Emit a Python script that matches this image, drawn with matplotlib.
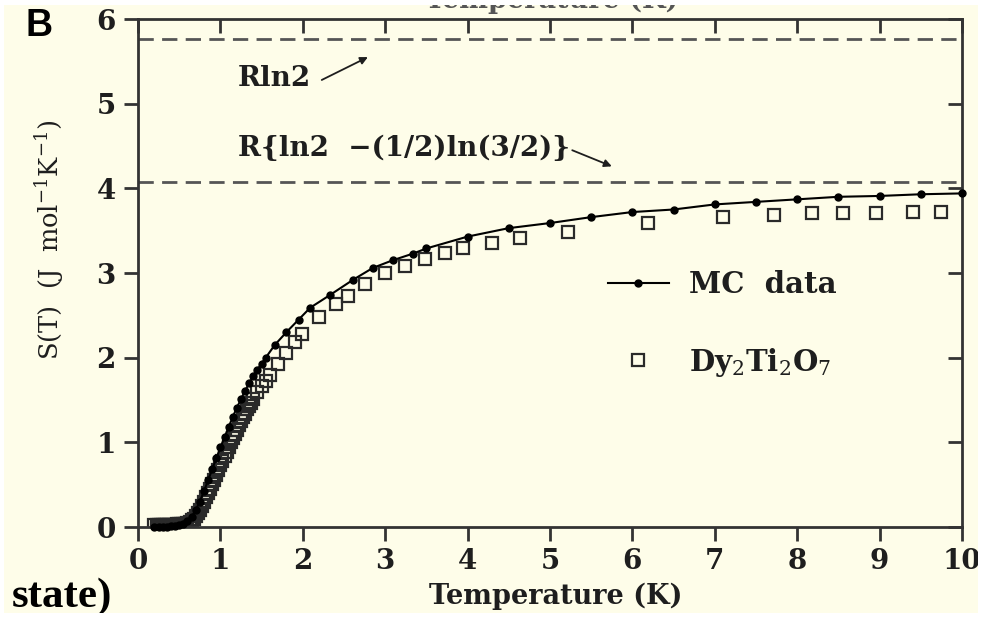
import matplotlib
matplotlib.use("Agg")
import matplotlib.pyplot as plt
from matplotlib.lines import Line2D
from matplotlib.patches import Rectangle

# ---------------- data ----------------
mc_T = [0.2, 0.25, 0.3, 0.35, 0.4, 0.45, 0.5, 0.55, 0.6, 0.65, 0.7, 0.75, 0.8, 0.85,
        0.9, 0.95, 1.0, 1.05, 1.1, 1.15, 1.2, 1.25, 1.3, 1.35, 1.4, 1.45, 1.5, 1.55,
        1.66, 1.8, 1.95, 2.09, 2.33, 2.61, 2.85, 3.09, 3.34, 3.5, 4.0, 4.5,
        5.0, 5.5, 6.0, 6.5, 7.0, 7.5, 8.0, 8.5, 9.0, 9.5, 10.0]
mc_S = [0.00, 0.00, 0.00, 0.00, 0.01, 0.01, 0.02, 0.04, 0.07, 0.12, 0.20, 0.30, 0.42, 0.55,
        0.68, 0.81, 0.94, 1.06, 1.18, 1.30, 1.41, 1.51, 1.61, 1.70, 1.78, 1.86, 1.93, 2.00,
        2.15, 2.30, 2.45, 2.59, 2.74, 2.92, 3.06, 3.15, 3.23, 3.29, 3.43, 3.53,
        3.59, 3.66, 3.72, 3.75, 3.81, 3.84, 3.87, 3.90, 3.91, 3.93, 3.94]

dy_T = [0.2, 0.225, 0.25, 0.275, 0.3, 0.325, 0.35, 0.375, 0.4, 0.425, 0.45, 0.475,
        0.5, 0.525, 0.55, 0.575, 0.6, 0.625, 0.65, 0.675, 0.7, 0.725, 0.75, 0.775,
        0.8, 0.825, 0.85, 0.875, 0.9, 0.925, 0.95, 0.975, 1.0, 1.025, 1.05, 1.075,
        1.1, 1.125, 1.15, 1.175, 1.2, 1.225, 1.25, 1.275, 1.3, 1.325, 1.35, 1.375,
        1.4, 1.45, 1.5, 1.55, 1.6, 1.7, 1.8, 1.9, 1.99, 2.2, 2.4, 2.55, 2.75, 3.0,
        3.24, 3.48, 3.73, 3.95, 4.3, 4.64, 5.22, 6.19, 7.1, 7.72, 8.18, 8.55, 8.96,
        9.4, 9.75]
dy_S = [0.02, 0.02, 0.02, 0.02, 0.02, 0.02, 0.02, 0.02, 0.02, 0.02, 0.02, 0.03,
        0.03, 0.03, 0.04, 0.04, 0.05, 0.06, 0.08, 0.10, 0.13, 0.16, 0.20, 0.25,
        0.30, 0.35, 0.40, 0.45, 0.51, 0.56, 0.62, 0.67, 0.73, 0.78, 0.84, 0.89,
        0.95, 1.00, 1.05, 1.10, 1.15, 1.20, 1.25, 1.30, 1.34, 1.39, 1.43, 1.47,
        1.51, 1.59, 1.66, 1.73, 1.80, 1.93, 2.06, 2.18, 2.28, 2.48, 2.63, 2.73, 2.87, 3.00,
        3.08, 3.16, 3.24, 3.29, 3.35, 3.41, 3.49, 3.59, 3.66, 3.68, 3.71, 3.71, 3.71,
        3.72, 3.72]

rln2 = 5.763       # R ln2
pauling = 4.077    # R{ln2 - (1/2)ln(3/2)}
x_ticks = [0, 1, 2, 3, 4, 5, 6, 7, 8, 9, 10]
y_ticks = [0, 1, 2, 3, 4, 5, 6]

# ---------------- style ----------------
cream = '#fefde9'
ink = '#1e1e1e'
axc = '#333333'
plt.rcParams['mathtext.fontset'] = 'dejavuserif'

fig = plt.figure(figsize=(9.9, 6.2), dpi=100, facecolor=cream)
ax = fig.add_axes([138/990, 1-527/620, 824/990, 508/620])
ax.set_facecolor(cream)

ax.axhline(rln2, color='#555555', lw=2.0, ls=(0, (5.5, 3)), zorder=1)
ax.axhline(pauling, color='#555555', lw=2.0, ls=(0, (5.5, 3)), zorder=1)

ax.plot(dy_T, dy_S, ls='none', marker='s', ms=9, mfc='none', mec='#2a2a2a',
        mew=1.6, zorder=2)
ax.plot(mc_T, mc_S, color='black', lw=1.5, marker='o', ms=5, mfc='black',
        mec='black', zorder=3, clip_on=False)

ax.set_xlim(0, 10)
ax.set_ylim(0, 6)
ax.set_xticks(x_ticks)
ax.set_yticks(y_ticks)
for s in ax.spines.values():
    s.set_linewidth(2.0)
    s.set_color(axc)

tickfont = dict(family='DejaVu Serif', weight='bold', size=20)
ax.tick_params(axis='both', direction='out', length=10, width=2, color=axc)
ax.tick_params(axis='x', pad=5)
ax.tick_params(axis='y', pad=6)
ax.set_xticklabels([str(v) for v in x_ticks], **tickfont, color=ink)
ax.set_yticklabels([str(v) for v in y_ticks], **tickfont, color=ink)

# inward ticks on top and right
sx = ax.secondary_xaxis('top')
sx.set_xticks(x_ticks)
sx.tick_params(direction='in', length=10, width=2, color=axc, labeltop=False)
sx.spines['top'].set_visible(False)
sy = ax.secondary_yaxis('right')
sy.set_yticks(y_ticks)
sy.tick_params(direction='in', length=10, width=2, color=axc, labelright=False)
sy.spines['right'].set_visible(False)

ax.set_xlabel('Temperature (K)', family='DejaVu Serif', weight='bold',
              size=19.5, color=ink, va='center')
ax.xaxis.set_label_coords(0.507, -0.136)
ax.set_ylabel(r'S(T)  (J  mol$^{-1}$K$^{-1}$)', family='DejaVu Serif',
              size=18.5, color=ink, va='center')
ax.yaxis.set_label_coords(-0.107, 0.565)

annfont = dict(family='DejaVu Serif', weight='bold', size=20, color=ink)
ax.text(1.21, 5.30, 'Rln2', va='center', ha='left', **annfont)
ax.annotate('', xy=(2.79, 5.55), xytext=(2.23, 5.28),
            arrowprops=dict(arrowstyle='-|>', color=ink, lw=1.3,
                            mutation_scale=11, shrinkA=0, shrinkB=0))
ax.text(1.21, 4.47, 'R{ln2  −(1/2)ln(3/2)}', va='center', ha='left', **annfont)
ax.annotate('', xy=(5.75, 4.26), xytext=(5.27, 4.45),
            arrowprops=dict(arrowstyle='-|>', color=ink, lw=1.3,
                            mutation_scale=11, shrinkA=0, shrinkB=0))

handles = [Line2D([], [], color='black', lw=1.5, marker='o', ms=5),
           Line2D([], [], ls='none', marker='s', ms=9, mfc='none',
                  mec='#2a2a2a', mew=1.6)]
leg = ax.legend(handles, ['MC  data', r'Dy$_2$Ti$_2$O$_7$'], loc='upper left',
                bbox_to_anchor=(0.570, 0.506), frameon=False, numpoints=1,
                borderpad=0, borderaxespad=0,
                handlelength=2.1, handletextpad=0.7, labelspacing=1.6,
                prop=dict(family='DejaVu Serif', weight='bold', size=21))
for t in leg.get_texts():
    t.set_color(ink)

fig.text(25/990, 1-26/620, 'B', family='Liberation Sans', weight='bold',
         size=27, ha='left', va='center', color='black')
fig.text(12/990, 1-607/620, 'state)', family='Liberation Serif', weight='bold',
         size=31, ha='left', va='baseline', color='black')
# clipped remnant of a label from the panel above
fig.text(552/990, 1-8/620, 'Temperature (K)', family='DejaVu Serif',
         weight='bold', size=19.5, ha='center', va='baseline', color='#555555',
         zorder=1)

# white scan margins
for rect in [(0, 1-5/620, 1, 5/620), (978/990, 0, 12/990, 1),
             (0, 0, 1, 7/620), (0, 0, 4/990, 1)]:
    fig.patches.append(Rectangle(rect[:2], rect[2], rect[3],
                                 transform=fig.transFigure, facecolor='white',
                                 edgecolor='none', zorder=10))

fig.savefig('out.png', dpi=100, facecolor=cream)
